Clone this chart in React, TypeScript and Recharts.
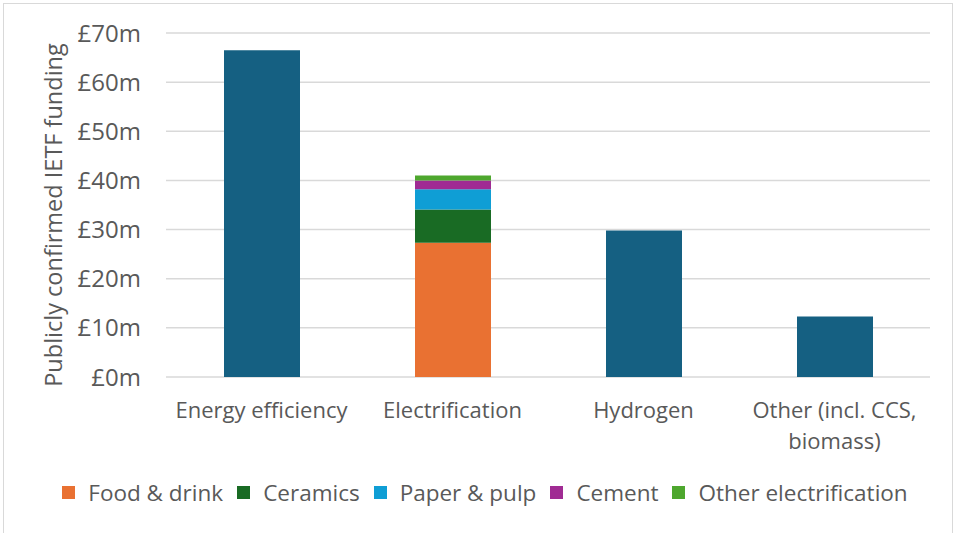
import { Bar, BarChart, CartesianGrid, Legend, XAxis, YAxis } from 'recharts';

const categories = ['Energy efficiency', 'Electrification', 'Hydrogen', 'Other (incl. CCS, biomass)'];

// funding in £m, one value per category
const sectorTotals = [66.5, null, 29.8, 12.3];
const foodDrink = [null, 27.3, null, null];
const ceramics = [null, 6.8, null, null];
const paperPulp = [null, 4.1, null, null];
const cement = [null, 1.8, null, null];
const otherElectrification = [null, 1.0, null, null];

const yTicks = [0, 10, 20, 30, 40, 50, 60, 70];

const data = categories.map((name, i) => ({
	name,
	total: sectorTotals[i],
	food: foodDrink[i],
	ceramics: ceramics[i],
	paper: paperPulp[i],
	cement: cement[i],
	otherElec: otherElectrification[i],
}));

const FONT = '"Open Sans", sans-serif';
const TEXT = '#595959';

const series = [
	{ key: 'food', label: 'Food & drink', color: '#E97132' },
	{ key: 'ceramics', label: 'Ceramics', color: '#196B24' },
	{ key: 'paper', label: 'Paper & pulp', color: '#0F9ED5' },
	{ key: 'cement', label: 'Cement', color: '#A02B93' },
	{ key: 'otherElec', label: 'Other electrification', color: '#4EA72E' },
];

function CategoryTick({ x, y, payload }: any) {
	const lines = payload.value === 'Other (incl. CCS, biomass)' ? ['Other (incl. CCS,', 'biomass)'] : [payload.value];
	return (
		<text x={x} y={y} textAnchor="middle" fill={TEXT} fontSize={22} fontFamily={FONT}>
			{lines.map((l, i) => (
				<tspan key={i} x={x} dy={i === 0 ? 33 : 31}>
					{l}
				</tspan>
			))}
		</text>
	);
}

function MoneyTick({ x, y, payload }: any) {
	return (
		<text x={x} y={y} dy={8.5} textAnchor="end" fill={TEXT} fontSize={24} fontFamily={FONT}>
			{`£${payload.value}m`}
		</text>
	);
}

function AxisTitle({ viewBox }: any) {
	const cx = viewBox.x + 13;
	const cy = viewBox.y + viewBox.height / 2 + 10;
	return (
		<text
			x={cx}
			y={cy}
			transform={`rotate(-90, ${cx}, ${cy})`}
			textAnchor="middle"
			dominantBaseline="central"
			fill={TEXT}
			fontSize={23.5}
			fontFamily={FONT}
		>
			Publicly confirmed IETF funding
		</text>
	);
}

function SectorLegend() {
	return (
		<div
			style={{
				display: 'flex',
				justifyContent: 'center',
				alignItems: 'center',
				gap: 14,
				fontFamily: FONT,
				fontSize: 22.5,
				color: TEXT,
				whiteSpace: 'nowrap',
			}}
		>
			{series.map((s) => (
				<span key={s.key} style={{ display: 'inline-flex', alignItems: 'center', gap: 13 }}>
					<span style={{ width: 13, height: 13, background: s.color, display: 'inline-block' }} />
					{s.label}
				</span>
			))}
		</div>
	);
}

export default function App() {
	return (
		<div style={{ position: 'absolute', left: 0, top: 0, width: 957, height: 533, background: '#fff' }}>
			<div
				style={{
					position: 'absolute',
					left: 3,
					top: 3,
					width: 948,
					height: 540,
					border: '1px solid #d9d9d9',
				}}
			/>
			<BarChart
				width={957}
				height={533}
				data={data}
				margin={{ top: 33, right: 27, left: 40, bottom: 20 }}
			>
				<CartesianGrid vertical={false} stroke="#d9d9d9" strokeWidth={1.5} />
				<XAxis
					dataKey="name"
					axisLine={false}
					tickLine={false}
					interval={0}
					height={100}
					tick={<CategoryTick />}
				/>
				<YAxis
					domain={[0, 70]}
					ticks={yTicks}
					axisLine={false}
					tickLine={false}
					width={126}
					tick={<MoneyTick />}
					tickMargin={19}
					label={<AxisTitle />}
				/>
				<Legend verticalAlign="bottom" height={36} content={<SectorLegend />} />
				<Bar dataKey="total" stackId="a" fill="#156082" barSize={76} isAnimationActive={false} />
				{series.map((s) => (
					<Bar key={s.key} dataKey={s.key} stackId="a" fill={s.color} barSize={76} isAnimationActive={false} />
				))}
			</BarChart>
		</div>
	);
}
